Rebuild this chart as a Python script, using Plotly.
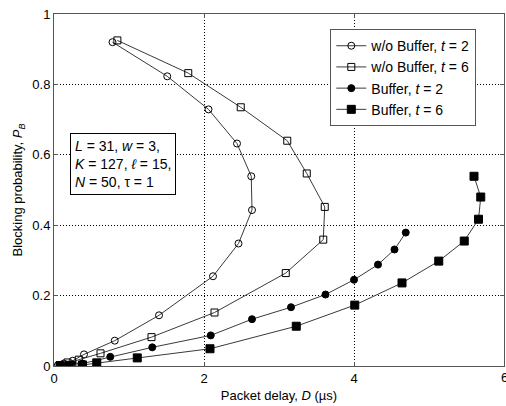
import plotly.graph_objects as go

# w/o Buffer, t = 2 (open circles)
d_nb2 = [0.78, 1.51, 2.06, 2.44, 2.63, 2.64, 2.46, 2.12, 1.40, 0.81, 0.40, 0.25, 0.13, 0.05]
p_nb2 = [0.920, 0.823, 0.729, 0.632, 0.539, 0.443, 0.348, 0.255, 0.144, 0.072, 0.033, 0.015, 0.007, 0.002]

# w/o Buffer, t = 6 (open squares)
d_nb6 = [0.845, 1.79, 2.49, 3.11, 3.37, 3.61, 3.59, 3.09, 2.14, 1.30, 0.62, 0.33, 0.18, 0.08]
p_nb6 = [0.925, 0.832, 0.735, 0.640, 0.547, 0.452, 0.359, 0.264, 0.152, 0.082, 0.036, 0.018, 0.010, 0.002]

# Buffer, t = 2 (filled circles)
d_b2 = [4.69, 4.54, 4.32, 4.00, 3.62, 3.16, 2.64, 2.09, 1.31, 0.75, 0.38, 0.24, 0.10]
p_b2 = [0.379, 0.331, 0.288, 0.245, 0.203, 0.167, 0.133, 0.087, 0.053, 0.026, 0.007, 0.005, 0.002]

# Buffer, t = 6 (filled squares)
d_b6 = [5.60, 5.69, 5.66, 5.47, 5.13, 4.64, 4.01, 3.23, 2.08, 1.11, 0.57, 0.38, 0.20, 0.08]
p_b6 = [0.539, 0.480, 0.417, 0.355, 0.298, 0.236, 0.173, 0.113, 0.049, 0.023, 0.009, 0.003, 0.002, 0.001]

x_ticks = [0, 2, 4, 6]
y_ticks = [0, 0.2, 0.4, 0.6, 0.8, 1]
y_tick_text = ["0", "0.2", "0.4", "0.6", "0.8", "1"]

FONT = "Liberation Sans, Arial"

series = [
    (d_nb2, p_nb2, "w/o Buffer, <i>t</i> = 2", "circle-open", 7),
    (d_nb6, p_nb6, "w/o Buffer, <i>t</i> = 6", "square-open", 7),
    (d_b2, p_b2, "Buffer, <i>t</i> = 2", "circle", 7),
    (d_b6, p_b6, "Buffer, <i>t</i> = 6", "square", 8),
]

fig = go.Figure()
for xs, ys, name, sym, sz in series:
    fig.add_trace(go.Scatter(
        x=xs, y=ys, name=name, mode="lines+markers",
        line=dict(color="#3a3a3a", width=1),
        marker=dict(symbol=sym, size=sz, color="black",
                    line=dict(color="black", width=1)),
    ))

fig.add_annotation(
    x=0.21, y=0.573, xref="x", yref="y", xanchor="left", yanchor="middle",
    text="<i>L</i> = 31, <i>w</i> = 3,<br><i>K</i> = 127, <i>ℓ</i> = 15,<br><i>N</i> = 50, τ = 1",
    showarrow=False, align="left",
    font=dict(family=FONT, size=14, color="black"),
    bordercolor="black", borderwidth=1, borderpad=4, bgcolor="white",
)

# right-most x tick label, partly cut by the page edge as in the reference
fig.add_annotation(
    x=x_ticks[-1], y=0, xref="x", yref="paper", yanchor="top", yshift=-2,
    text=str(x_ticks[-1]), showarrow=False,
    font=dict(family=FONT, size=13, color="black"),
)

axis_common = dict(
    showline=True, linecolor="#555", linewidth=1, mirror="ticks",
    ticks="inside", ticklen=4, tickcolor="#555",
    showgrid=True, gridcolor="black", griddash="1px,2px", gridwidth=1,
    zeroline=False,
    tickfont=dict(family=FONT, size=13, color="black"),
)

fig.update_xaxes(range=[0, 6], tickvals=x_ticks, ticktext=[str(v) for v in x_ticks],
                 title=dict(text="Packet delay, <i>D</i> (µs)", standoff=6,
                            font=dict(family=FONT, size=13, color="black")),
                 **axis_common)
fig.update_yaxes(range=[0, 1], tickvals=y_ticks, ticktext=y_tick_text,
                 title=dict(text="Blocking probability, <i>P<sub>B</sub></i>", standoff=6,
                            font=dict(family=FONT, size=13, color="black")),
                 **axis_common)

fig.update_layout(
    width=506, height=406,
    margin=dict(l=54, r=2, t=14, b=40),
    paper_bgcolor="white", plot_bgcolor="white",
    showlegend=True,
    legend=dict(x=0.614, y=0.957, xanchor="left", yanchor="top",
                bgcolor="white", bordercolor="#555", borderwidth=1,
                font=dict(family=FONT, size=14, color="black"),
                tracegroupgap=0, itemwidth=30),
)

fig.write_html("out.html")
